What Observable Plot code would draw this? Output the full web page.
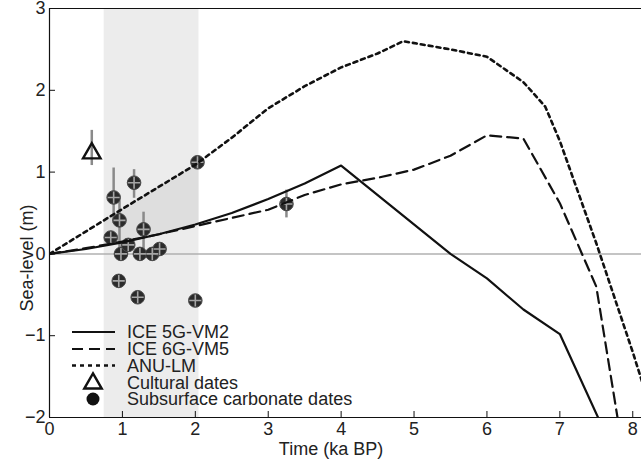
<!DOCTYPE html>
<html><head><meta charset="utf-8">
<script src="https://cdn.jsdelivr.net/npm/d3@7"></script>
<script src="https://cdn.jsdelivr.net/npm/@observablehq/plot@0.6"></script>
<style>
body{margin:0;background:#fff;}
#wrap{position:relative;width:641px;height:462px;font-family:"Liberation Sans",Arial,sans-serif;}
#wrap svg.leg{position:absolute;left:0;top:0;pointer-events:none;}
</style></head><body><div id="wrap"></div>
<script>
// ---- data ----
const ice5X = [0, 0.5, 1, 1.5, 2, 2.5, 3, 3.5, 4, 5.5, 6, 6.5, 7, 7.55];
const ice5Y = [0, 0.06, 0.14, 0.24, 0.36, 0.5, 0.67, 0.86, 1.08, 0, -0.3, -0.68, -0.98, -2.05];
const ice6X = [0, 0.5, 1, 1.5, 2, 2.5, 3, 3.5, 4, 4.5, 5, 5.5, 6, 6.5, 7, 7.5, 7.8];
const ice6Y = [0, 0.07, 0.15, 0.24, 0.34, 0.44, 0.54, 0.72, 0.85, 0.93, 1.03, 1.2, 1.45, 1.41, 0.62, -0.4, -2.05];
const anuX = [0, 1, 2, 2.5, 3, 3.5, 4, 4.5, 4.85, 5.5, 6, 6.5, 6.8, 7, 7.5, 8, 8.3];
const anuY = [0, 0.55, 1.09, 1.42, 1.78, 2.05, 2.28, 2.45, 2.6, 2.5, 2.41, 2.1, 1.8, 1.38, 0.13, -1.2, -2.05];

const bandX = [0.75, 2.05];
const shadeX = [0.75, 1, 1.5, 2, 2.05];
const shadeLo = [0.1, 0.14, 0.24, 0.36, 0.37];
const shadeHi = [0.41, 0.55, 0.82, 1.09, 1.12];

const carbX = [0.88, 0.96, 1.16, 0.84, 0.98, 1.08, 1.29, 1.24, 1.41, 1.51, 0.95, 1.21, 2.0, 2.03, 3.25];
const carbY = [0.69, 0.41, 0.87, 0.2, 0.0, 0.11, 0.3, 0.0, 0.0, 0.06, -0.33, -0.53, -0.57, 1.12, 0.61];
const carbLo = [0.37, 0.04, 0.68, null, null, null, 0.02, null, null, null, null, null, null, null, 0.44];
const carbHi = [1.05, 0.65, 1.03, null, null, null, 0.51, null, null, null, null, null, null, null, 0.78];

const cultX = [0.58];
const cultY = [1.23];
const cultLo = [1.08];
const cultHi = [1.51];

const xTicks = [0, 1, 2, 3, 4, 5, 6, 7, 8];
const yTicks = [-2, -1, 0, 1, 2, 3];
const legendLabels = ["ICE 5G-VM2", "ICE 6G-VM5", "ANU-LM", "Cultural dates", "Subsurface carbonate dates"];
const xLabel = "Time (ka BP)";
const yLabel = "Sea-level (m)";

// ---- tables ----
const ice5 = ice5X.map((x, i) => ({x, y: ice5Y[i]}));
const ice6 = ice6X.map((x, i) => ({x, y: ice6Y[i]}));
const anu = anuX.map((x, i) => ({x, y: anuY[i]}));
const shade = shadeX.map((x, i) => ({x, lo: shadeLo[i], hi: shadeHi[i]}));
const carb = carbX.map((x, i) => ({x, y: carbY[i], lo: carbLo[i], hi: carbHi[i]}));
const carbErr = carb.filter(d => d.lo != null);
const cult = cultX.map((x, i) => ({x, y: cultY[i], lo: cultLo[i], hi: cultHi[i]}));

const cross = {draw(ctx, size) {
  const r = Math.sqrt(size / Math.PI);
  ctx.moveTo(-r, 0); ctx.lineTo(r, 0);
  ctx.moveTo(0, -r); ctx.lineTo(0, r);
}};

const fmt = d3.format("d");
const font = '"Liberation Sans", Arial, sans-serif';
const chart = Plot.plot({
  width: 641, height: 462,
  marginLeft: 49, marginRight: 0, marginTop: 8, marginBottom: 45,
  style: {fontFamily: font, fontSize: "18px", color: "#222", background: "#fff"},
  x: {domain: [0, 8.12], label: null},
  y: {domain: [-2, 3], label: null},
  marks: [
    Plot.rect([{x1: bandX[0], x2: bandX[1]}], {x1: "x1", x2: "x2", fill: "#ececec"}),
    Plot.areaY(shade, {x: "x", y1: "lo", y2: "hi", fill: "#dedede"}),
    Plot.ruleY([0], {stroke: "#b0b0b0", strokeWidth: 1.5}),
    Plot.ruleX(carbErr, {x: "x", y1: "lo", y2: "hi", stroke: "#8a8a8a", strokeWidth: 2.5}),
    Plot.dot(carb, {x: "x", y: "y", r: 6.8, fill: "#2b2b2b", stroke: "#4a4a4a", strokeWidth: 1}),
    Plot.dot(carb, {x: "x", y: "y", r: 6, symbol: cross, stroke: "#a5a5a5", strokeWidth: 1.6, fill: "none"}),
    Plot.ruleX(cult, {x: "x", y1: "lo", y2: "hi", stroke: "#8a8a8a", strokeWidth: 2.5}),
    Plot.dot(cult, {x: "x", y: "y", symbol: "triangle", r: 6.5, stroke: "#111", strokeWidth: 2.4, fill: "none"}),
    Plot.line(ice5, {x: "x", y: "y", stroke: "#111", strokeWidth: 2.2, clip: true}),
    Plot.line(ice6, {x: "x", y: "y", stroke: "#111", strokeWidth: 2.2, strokeDasharray: "11,6", clip: true}),
    Plot.line(anu, {x: "x", y: "y", stroke: "#111", strokeWidth: 2.6, strokeDasharray: "4,4", clip: true}),
    Plot.ruleY([-2], {stroke: "#111", strokeWidth: 1.2}),
    Plot.ruleY([3], {stroke: "#111", strokeWidth: 1.2}),
    Plot.ruleX([0], {stroke: "#111", strokeWidth: 1.2}),
    Plot.axisX({ticks: xTicks, tickSize: 0, tickPadding: 5, tickFormat: fmt, label: null, fontSize: 18}),
    Plot.axisX({ticks: xTicks, tickSize: -6, tickFormat: () => "", label: null, stroke: "#111"}),
    Plot.axisY({ticks: yTicks, tickSize: 0, tickPadding: 4, tickFormat: fmt, label: null, fontSize: 18}),
    Plot.axisY({ticks: yTicks, tickSize: -6, tickFormat: () => "", label: null, stroke: "#111"})
  ]
});
const wrap = document.getElementById("wrap");
wrap.appendChild(chart);

// ---- legend and axis titles overlay ----
const leg = d3.select(wrap).append("svg").attr("class", "leg").attr("width", 641).attr("height", 462);
const rowsY = [332, 349, 365.5, 382.5, 399];
const styles = [null, "11,6", "4,4"];
legendLabels.forEach((lab, i) => {
  const y = rowsY[i];
  if (i < 3) {
    leg.append("line").attr("x1", 72).attr("x2", 115).attr("y1", y).attr("y2", y)
      .attr("stroke", "#111").attr("stroke-width", i === 2 ? 2.6 : 2.2)
      .attr("stroke-dasharray", styles[i]);
  } else if (i === 3) {
    leg.append("path").attr("d", d3.symbol(d3.symbolTriangle, Math.PI * 6.5 * 6.5)())
      .attr("transform", `translate(93,${y + 1})`).attr("fill", "none").attr("stroke", "#111").attr("stroke-width", 2.4);
  } else {
    leg.append("circle").attr("cx", 93).attr("cy", y).attr("r", 6.5).attr("fill", "#111");
  }
  leg.append("text").attr("x", 127).attr("y", y).attr("dy", "0.35em")
    .attr("font-family", font).attr("font-size", 18).attr("fill", "#222").text(lab);
});
leg.append("text").attr("x", 331).attr("y", 449).attr("dy", "0.35em").attr("text-anchor", "middle")
  .attr("font-family", font).attr("font-size", 18).attr("fill", "#222").text(xLabel);
leg.append("text").attr("transform", "translate(27,258) rotate(-90)").attr("dy", "0.35em").attr("text-anchor", "middle")
  .attr("font-family", font).attr("font-size", 18).attr("fill", "#222").text(yLabel);
</script></body></html>
